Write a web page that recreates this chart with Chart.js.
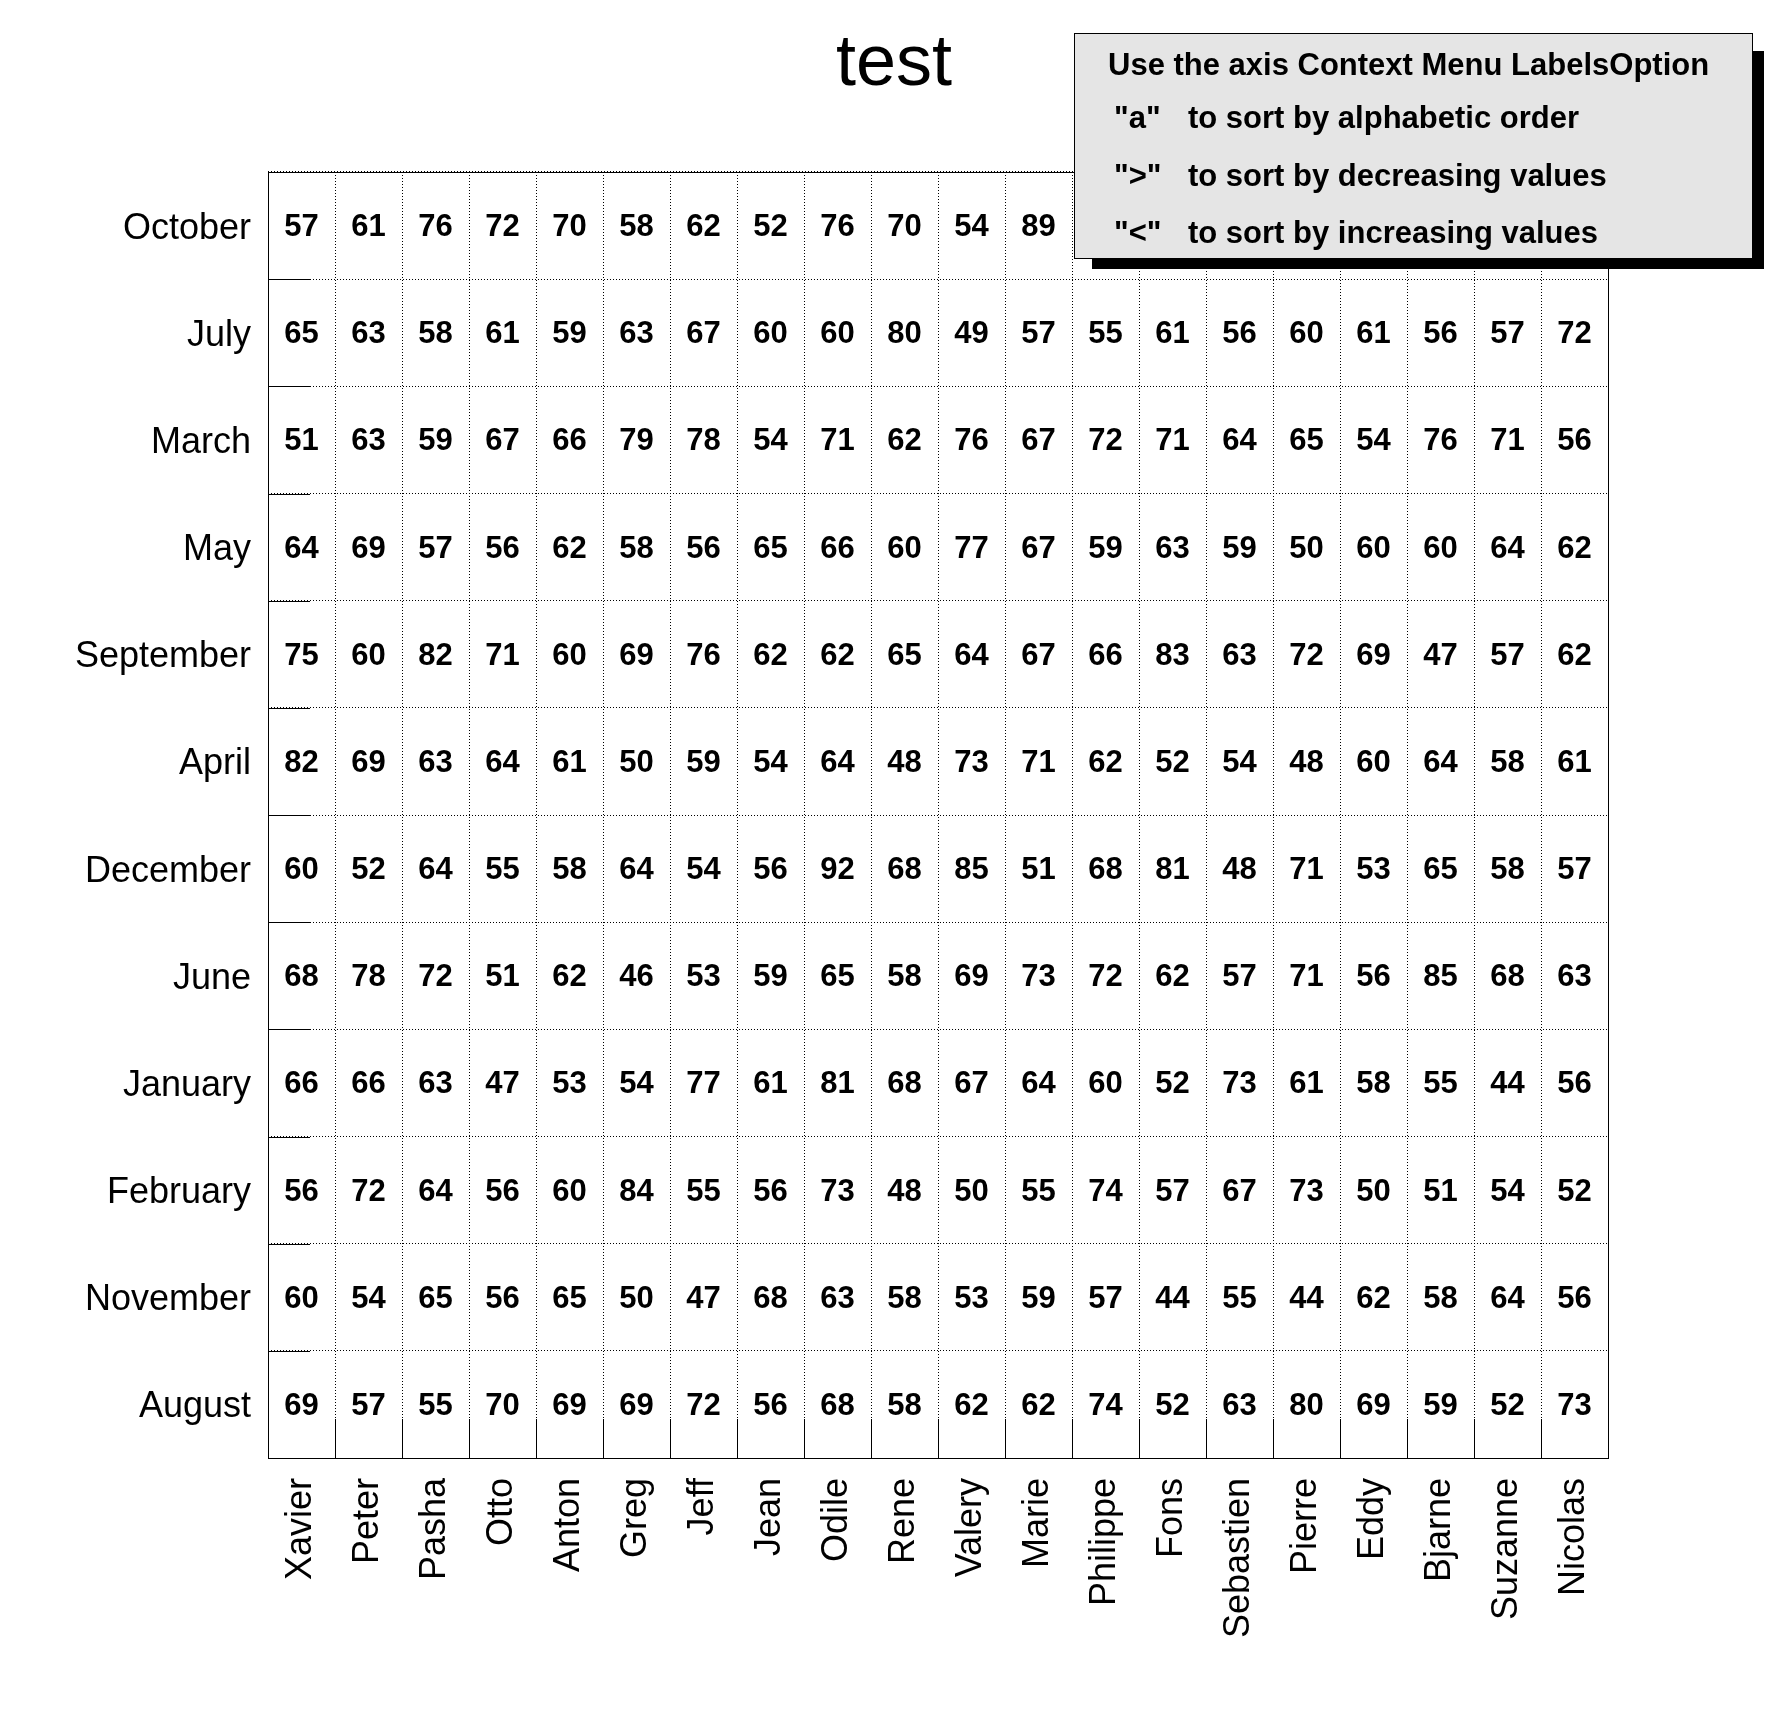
<!DOCTYPE html>
<html>
<head>
<meta charset="utf-8">
<script src="https://cdn.jsdelivr.net/npm/chart.js@4.4.1/dist/chart.umd.min.js"></script>
<style>
  html, body { margin: 0; padding: 0; background: #fff; }
  #wrap { width: 1788px; height: 1716px; position: relative; }
</style>
</head>
<body>
<div id="wrap"><canvas id="c" width="1788" height="1716"></canvas></div>
<script>
const names = ["Xavier","Peter","Pasha","Otto","Anton","Greg","Jeff","Jean","Odile","Rene","Valery","Marie","Philippe","Fons","Sebastien","Pierre","Eddy","Bjarne","Suzanne","Nicolas"];
const months = ["October","July","March","May","September","April","December","June","January","February","November","August"];

const october   = [57,61,76,72,70,58,62,52,76,70,54,89,63,58,66,60,71,64,55,69];
const july      = [65,63,58,61,59,63,67,60,60,80,49,57,55,61,56,60,61,56,57,72];
const march     = [51,63,59,67,66,79,78,54,71,62,76,67,72,71,64,65,54,76,71,56];
const may       = [64,69,57,56,62,58,56,65,66,60,77,67,59,63,59,50,60,60,64,62];
const september = [75,60,82,71,60,69,76,62,62,65,64,67,66,83,63,72,69,47,57,62];
const april     = [82,69,63,64,61,50,59,54,64,48,73,71,62,52,54,48,60,64,58,61];
const december  = [60,52,64,55,58,64,54,56,92,68,85,51,68,81,48,71,53,65,58,57];
const june      = [68,78,72,51,62,46,53,59,65,58,69,73,72,62,57,71,56,85,68,63];
const january   = [66,66,63,47,53,54,77,61,81,68,67,64,60,52,73,61,58,55,44,56];
const february  = [56,72,64,56,60,84,55,56,73,48,50,55,74,57,67,73,50,51,54,52];
const november  = [60,54,65,56,65,50,47,68,63,58,53,59,57,44,55,44,62,58,64,56];
const august    = [69,57,55,70,69,69,72,56,68,58,62,62,74,52,63,80,69,59,52,73];

const rows = [october, july, march, may, september, april, december, june, january, february, november, august];

const title = "test";
const legendLines = [
  ["Use the axis Context Menu LabelsOption", ""],
  ["\"a\"", "to sort by alphabetic order"],
  ["\">\"", "to sort by decreasing values"],
  ["\"<\"", "to sort by increasing values"]
];

const points = [];
months.forEach((m, i) => names.forEach((n, j) => points.push({ x: n, y: m, v: rows[i][j] })));

const FONT = "'Liberation Sans', Arial, Helvetica, sans-serif";

const cellText = {
  id: 'cellText',
  afterDatasetsDraw(chart) {
    const ctx = chart.ctx;
    const meta = chart.getDatasetMeta(0);
    const data = chart.data.datasets[0].data;
    ctx.save();
    ctx.fillStyle = '#000';
    ctx.font = "bold 31px " + FONT;
    ctx.textAlign = 'center';
    ctx.textBaseline = 'middle';
    meta.data.forEach((pt, k) => {
      ctx.fillText(String(data[k].v), pt.x, pt.y + 2);
    });
    ctx.restore();
  }
};

const frameTicks = {
  id: 'frameTicks',
  afterDatasetsDraw(chart) {
    const ctx = chart.ctx;
    const a = chart.chartArea;
    const xs = chart.scales.x, ys = chart.scales.y;
    const al = v => Math.round(v) + 0.5;
    ctx.save();
    ctx.setLineDash([]);
    ctx.strokeStyle = '#000';
    ctx.lineWidth = 1;
    ctx.beginPath();
    for (let i = 1; i < months.length; i++) {
      const y = al((ys.getPixelForTick(i - 1) + ys.getPixelForTick(i)) / 2);
      ctx.moveTo(a.left, y);
      ctx.lineTo(a.left + 42, y);
    }
    for (let i = 1; i < names.length; i++) {
      const x = al((xs.getPixelForTick(i - 1) + xs.getPixelForTick(i)) / 2);
      ctx.moveTo(x, a.bottom);
      ctx.lineTo(x, a.bottom - 39);
    }
    ctx.stroke();
    ctx.strokeRect(al(a.left), al(a.top), Math.round(a.right - a.left), Math.round(a.bottom - a.top));
    ctx.restore();
  }
};

const infoBox = {
  id: 'infoBox',
  afterDraw(chart) {
    const ctx = chart.ctx;
    ctx.save();
    ctx.fillStyle = '#000';
    ctx.fillRect(1092, 51, 672, 218);
    ctx.fillStyle = '#e5e5e5';
    ctx.fillRect(1074, 33, 678, 225);
    ctx.strokeStyle = '#000';
    ctx.lineWidth = 1;
    ctx.strokeRect(1074.5, 33.5, 678, 225);
    ctx.fillStyle = '#000';
    ctx.font = "bold 31px " + FONT;
    ctx.textAlign = 'left';
    ctx.textBaseline = 'alphabetic';
    const baselines = [75, 128, 186, 243];
    legendLines.forEach((ln, i) => {
      if (i === 0) {
        ctx.fillText(ln[0], 1108, baselines[i]);
      } else {
        ctx.fillText(ln[0], 1114, baselines[i]);
        ctx.fillText(ln[1], 1188, baselines[i]);
      }
    });
    ctx.restore();
  }
};

new Chart(document.getElementById('c'), {
  type: 'scatter',
  data: {
    datasets: [{
      data: points,
      pointRadius: 0,
      pointHoverRadius: 0,
      showLine: false
    }]
  },
  options: {
    responsive: false,
    devicePixelRatio: 1,
    animation: false,
    events: [],
    layout: { padding: { left: 0, right: 0, top: 0, bottom: 0 } },
    plugins: {
      legend: { display: false },
      tooltip: { enabled: false },
      title: {
        display: true,
        text: title,
        color: '#000',
        font: { family: FONT, size: 72, weight: 'normal', lineHeight: 1 },
        padding: { top: 29, bottom: 71 }
      }
    },
    scales: {
      x: {
        type: 'category',
        labels: names,
        offset: true,
        position: 'bottom',
        afterFit(scale) { scale.height = 258; },
        grid: { offset: true, color: '#000', lineWidth: 1, drawTicks: false },
        border: { display: false, dash: [1, 2] },
        ticks: {
          autoSkip: false,
          minRotation: 90,
          maxRotation: 90,
          padding: 20,
          color: '#000',
          font: { family: FONT, size: 36 }
        }
      },
      y: {
        type: 'category',
        labels: months,
        offset: true,
        position: 'left',
        afterFit(scale) { scale.width = 268; },
        grid: { offset: true, color: '#000', lineWidth: 1, drawTicks: false },
        border: { display: false, dash: [1, 2] },
        ticks: {
          autoSkip: false,
          padding: 17,
          labelOffset: 3,
          color: '#000',
          font: { family: FONT, size: 36 }
        }
      },
      yRight: {
        type: 'linear',
        position: 'right',
        display: true,
        afterFit(scale) { scale.width = 180; },
        grid: { display: false, drawTicks: false },
        border: { display: false },
        ticks: { display: false }
      }
    }
  },
  plugins: [cellText, frameTicks, infoBox]
});
</script>
</body>
</html>
